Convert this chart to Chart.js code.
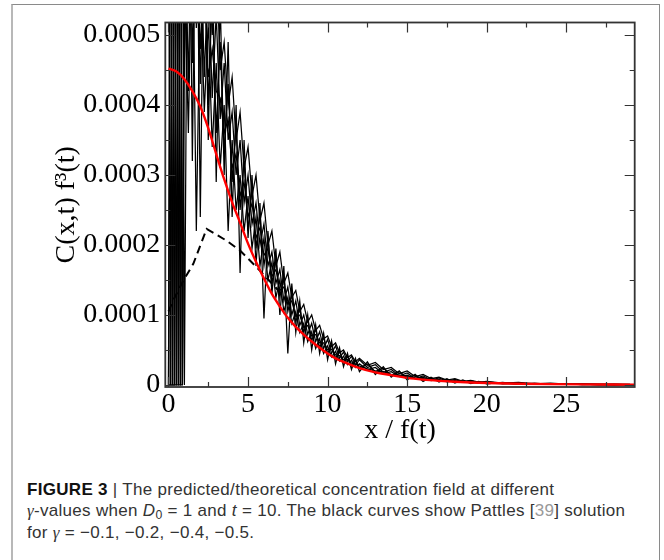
<!DOCTYPE html>
<html>
<head>
<meta charset="utf-8">
<script src="https://cdn.jsdelivr.net/npm/chart.js@4.4.1/dist/chart.umd.min.js"></script>
<style>
  html, body { margin: 0; padding: 0; background: #fff; }
  body { width: 664px; height: 560px; position: relative; overflow: hidden; }
  #frame {
    position: absolute; left: 11px; top: 4px; width: 646px; height: 600px;
    border: 1px solid #8a8a8a; border-left: 2px solid #b8b8b8;
  }
  #plot { position: absolute; left: 0; top: 0; }
  #caption {
    position: absolute; left: 27px; top: 479px; white-space: nowrap;
    font: 17px/21.3px 'Liberation Sans', Arial, sans-serif; color: #333;
    letter-spacing: 0.3px;
  }
  #caption b { color: #111; }
  #caption .g { font-family: 'Liberation Serif', serif; font-style: italic; }
  #caption sub { font-size: 0.72em; line-height: 0; vertical-align: -0.25em; }
  #caption .ref { color: #999; }
</style>
</head>
<body>
<div id="frame"></div>
<canvas id="plot" width="664" height="460"></canvas>
<div id="caption">
  <b>FIGURE 3</b> | The predicted/theoretical concentration field at different<br>
  <span class="g">γ</span>-values when <i>D</i><sub>0</sub> = 1 and <i>t</i> = 10. The black curves show Pattles [<span class="ref">39</span>] solution<br>
  for <span class="g">γ</span> = −0.1, −0.2, −0.4, −0.5.
</div>
<script>
const UNIT = 1e-4;

const xGrid = [0, 0.125, 0.25, 0.375, 0.5, 0.625, 0.75, 0.875, 1,
  1.25, 1.5, 1.75, 2, 2.25, 2.5, 2.75, 3, 3.25, 3.5, 3.75, 4, 4.25, 4.5, 4.75, 5, 5.25, 5.5, 5.75, 6,
  6.25, 6.5, 6.75, 7, 7.25, 7.5, 7.75, 8, 8.25, 8.5, 8.75, 9, 9.25, 9.5, 9.75, 10, 10.25, 10.5, 10.75,
  11, 11.25, 11.5, 11.75, 12,
  12.5, 13, 13.5, 14, 14.5, 15, 15.5, 16, 16.5, 17, 17.5, 18, 18.5, 19, 19.5, 20,
  21, 22, 23, 24, 25, 26, 27, 28, 29];

// Simulationskurven (schwarz, verrauscht)
const sim1 = [0, 9, 0, 9, 0, 8, 0, 9, 7.5,
  4.2, 8, 5.1, 6.6, 4.4, 5.9, 4.1, 5.3, 3.8, 4.6, 3.5, 3.9, 3.0, 3.5, 2.6, 3.0, 2.3, 2.6, 2.0, 2.3, 1.7, 1.9,
  1.45, 1.65, 1.2, 1.4, 1.0, 1.2, 0.85, 1.0, 0.72, 0.88, 0.62, 0.76, 0.52, 0.65, 0.45, 0.56, 0.38, 0.47,
  0.33, 0.41, 0.28, 0.36,
  0.25, 0.29, 0.18, 0.22, 0.13, 0.17, 0.09, 0.13, 0.07, 0.1, 0.05, 0.08, 0.04, 0.06, 0.03, 0.045,
  0.02, 0.03, 0.012, 0.02, 0.008, 0.012, 0.005, 0.008, 0.004];
const sim2 = [9, 0, 9, 0, 9, 0, 9, 0, 5.2,
  8.5, 4.6, 7.2, 4.3, 6.3, 4.0, 5.6, 3.6, 4.9, 3.3, 4.3, 2.9, 3.7, 2.5, 3.2, 2.2, 2.8, 1.95, 2.45, 1.7, 2.1,
  1.45, 1.8, 1.25, 1.55, 1.05, 1.3, 0.9, 1.1, 0.75, 0.95, 0.63, 0.8, 0.53, 0.68, 0.45, 0.57, 0.38, 0.48,
  0.32, 0.41, 0.27, 0.35, 0.24,
  0.3, 0.19, 0.24, 0.13, 0.19, 0.1, 0.14, 0.07, 0.1, 0.05, 0.08, 0.035, 0.06, 0.025, 0.045, 0.02,
  0.03, 0.012, 0.02, 0.008, 0.014, 0.005, 0.009, 0.003, 0.006];
const sim3 = [0, 0, 9, 9, 0, 0, 9, 9, 0,
  9, 3.2, 8, 2.4, 7, 3.5, 6.2, 2.9, 5.5, 3.0, 4.9, 2.4, 4.0, 1.6, 3.5, 2.1, 3.0, 1.7, 2.6, 0.95, 2.2,
  1.3, 1.95, 1.0, 1.7, 0.45, 1.45, 0.75, 1.2, 0.6, 1.0, 0.5, 0.86, 0.45, 0.74, 0.36, 0.63, 0.3, 0.53,
  0.26, 0.45, 0.22, 0.38, 0.19,
  0.33, 0.15, 0.26, 0.11, 0.2, 0.07, 0.15, 0.05, 0.11, 0.04, 0.09, 0.025, 0.07, 0.02, 0.05, 0.015,
  0.035, 0.01, 0.025, 0.006, 0.018, 0.004, 0.012, 0.002, 0.008];
const sim4 = [9, 9, 0, 0, 9, 9, 0, 0, 9,
  6.2, 9, 6.0, 8, 5.6, 7, 5.0, 6.2, 4.5, 4.9, 4.0, 4.4, 3.5, 3.9, 3.1, 3.4, 2.7, 3.0, 2.35, 2.6, 2.0,
  2.2, 1.7, 1.9, 1.45, 1.6, 1.25, 1.35, 1.05, 1.15, 0.9, 1.0, 0.78, 0.85, 0.66, 0.7, 0.55, 0.6, 0.46,
  0.5, 0.39, 0.43, 0.33, 0.38,
  0.28, 0.32, 0.22, 0.25, 0.16, 0.2, 0.12, 0.15, 0.09, 0.11, 0.07, 0.09, 0.05, 0.065, 0.04, 0.05,
  0.025, 0.035, 0.015, 0.025, 0.01, 0.015, 0.006, 0.01, 0.005];
const sim5 = [0, 9, 9, 0, 0, 9, 9, 0, 6,
  3.6, 6.8, 2.2, 5.8, 3.9, 5.2, 3.4, 4.6, 3.1, 4.0, 2.2, 3.5, 2.5, 3.0, 2.2, 2.7, 1.95, 2.4, 1.7, 2.1,
  1.5, 1.75, 1.25, 1.5, 1.05, 1.25, 0.88, 1.05, 0.75, 0.88, 0.62, 0.76, 0.52, 0.66, 0.45, 0.56, 0.4,
  0.48, 0.34, 0.41, 0.29, 0.35, 0.25, 0.3,
  0.22, 0.25, 0.16, 0.19, 0.12, 0.14, 0.09, 0.11, 0.06, 0.08, 0.045, 0.06, 0.035, 0.045, 0.025, 0.035,
  0.018, 0.025, 0.01, 0.016, 0.006, 0.01, 0.004, 0.007, 0.003];
const sim6 = [9, 0, 0, 9, 9, 0, 0, 9, 4.4,
  7.5, 5.3, 6.5, 4.8, 5.9, 4.4, 4.8, 4.2, 4.1, 3.6, 3.8, 3.1, 3.3, 2.7, 2.9, 2.4, 2.6, 2.1, 2.25, 1.85,
  1.95, 1.55, 1.65, 1.35, 1.4, 1.15, 1.2, 0.98, 1.0, 0.82, 0.85, 0.7, 0.72, 0.6, 0.6, 0.5, 0.51, 0.43,
  0.42, 0.36, 0.36, 0.31, 0.3, 0.27,
  0.23, 0.2, 0.19, 0.15, 0.14, 0.12, 0.1, 0.09, 0.075, 0.065, 0.055, 0.05, 0.04, 0.035, 0.03, 0.025,
  0.02, 0.015, 0.012, 0.01, 0.008, 0.006, 0.005, 0.004, 0.003];
const simSeries = [sim1, sim2, sim3, sim4, sim5, sim6];

// Theorie (rot)
const redX = [0, 0.5, 1, 1.5, 2, 2.5, 3, 3.5, 4, 4.5, 5, 5.5, 6, 6.5, 7, 7.5, 8, 8.5, 9, 9.5,
  10, 10.5, 11, 12, 13, 14, 15, 16, 17, 18, 19, 20, 22, 24, 26, 28, 29.3];
const redY = [4.52, 4.48, 4.37, 4.2, 3.98, 3.67, 3.3, 2.94, 2.61, 2.32, 2.02, 1.76, 1.52, 1.30, 1.12,
  0.96, 0.83, 0.72, 0.62, 0.53, 0.45, 0.38, 0.33, 0.24, 0.18, 0.14, 0.10, 0.075, 0.058, 0.045, 0.035,
  0.027, 0.017, 0.011, 0.007, 0.005, 0.004];

// gestrichelte Kurve
const dashX = [0, 0.3, 0.93, 1.56, 2.4, 3.0, 3.66, 4.5, 5.55, 6.5, 7.5];
const dashY = [1.05, 1.21, 1.49, 1.73, 2.23, 2.15, 2.06, 1.92, 1.68, 1.45, 1.2];

// Achsen
const xMajorTicks = [0, 5, 10, 15, 20, 25];
const xMinorTicks = [2.5, 7.5, 12.5, 17.5, 22.5, 27.5];
const yMajorTicks = [0, 0.0001, 0.0002, 0.0003, 0.0004, 0.0005];
const yTickLabels = ['0', '0.0001', '0.0002', '0.0003', '0.0004', '0.0005'];
const yMinorTicks = [0.00005, 0.00015, 0.00025, 0.00035, 0.00045];

const serif = 'Liberation Serif';

const toPoints = (xs, ys) => xs.map((x, i) => ({ x, y: ys[i] * UNIT }));

// Rahmen + nach innen zeigende Ticks auf allen vier Seiten (xmgrace-Stil)
const frameTicks = {
  id: 'frameTicks',
  afterDatasetsDraw(chart) {
    const { ctx, chartArea: a, scales: { x, y } } = chart;
    ctx.save();
    ctx.strokeStyle = '#333';
    ctx.lineWidth = 1.2;
    ctx.beginPath();
    const xt = (v, len) => {
      const px = Math.round(x.getPixelForValue(v)) + 0.5;
      ctx.moveTo(px, a.bottom); ctx.lineTo(px, a.bottom - len);
      ctx.moveTo(px, a.top); ctx.lineTo(px, a.top + len);
    };
    const yt = (v, len) => {
      const py = Math.round(y.getPixelForValue(v)) + 0.5;
      ctx.moveTo(a.left, py); ctx.lineTo(a.left + len, py);
      ctx.moveTo(a.right, py); ctx.lineTo(a.right - len, py);
    };
    xMajorTicks.forEach(v => xt(v, 10));
    xMinorTicks.forEach(v => xt(v, 5));
    yMajorTicks.forEach(v => yt(v, 10));
    yMinorTicks.forEach(v => yt(v, 5));
    ctx.stroke();
    ctx.lineWidth = 1.8;
    ctx.strokeRect(a.left, a.top, a.right - a.left, a.bottom - a.top);
    ctx.restore();
  }
};

const datasets = [
  {
    data: toPoints(redX, redY),
    borderColor: '#ff0000',
    borderWidth: 2.4,
    cubicInterpolationMode: 'monotone',
    order: 0,
  },
  ...simSeries.map(s => ({
    data: toPoints(xGrid, s),
    borderColor: '#000',
    borderWidth: 1.25,
    tension: 0,
    order: 1,
  })),
  {
    data: toPoints(dashX, dashY),
    borderColor: '#000',
    borderWidth: 2,
    borderDash: [8, 5],
    tension: 0,
    order: 2,
  },
];

new Chart(document.getElementById('plot'), {
  type: 'line',
  data: { datasets },
  plugins: [frameTicks],
  options: {
    responsive: false,
    animation: false,
    events: [],
    parsing: false,
    elements: { point: { radius: 0 } },
    layout: { padding: { left: 0, right: 29.3, top: 22.5, bottom: 0 } },
    scales: {
      x: {
        type: 'linear',
        min: -0.2,
        max: 29.3,
        grid: { display: false, drawTicks: false },
        border: { display: false },
        afterBuildTicks: s => { s.ticks = xMajorTicks.map(v => ({ value: v })); },
        afterFit: s => { s.height = 73; },
        ticks: {
          padding: 1,
          color: '#000',
          maxRotation: 0,
          font: { family: serif, size: 28 },
          callback: v => String(v),
        },
        title: {
          display: true,
          text: 'x / f(t)',
          color: '#000',
          font: { family: serif, size: 28 },
          padding: { top: 0, bottom: 13 },
        },
      },
      y: {
        type: 'linear',
        min: -0.000003,
        max: 0.000518,
        grid: { display: false, drawTicks: false },
        border: { display: false },
        afterBuildTicks: s => { s.ticks = yMajorTicks.map(v => ({ value: v })); },
        afterFit: s => { s.width = 165.3; },
        ticks: {
          padding: 5,
          color: '#000',
          font: { family: serif, size: 28 },
          callback: (v, i) => yTickLabels[i],
        },
        title: {
          display: true,
          text: 'C(x,t) f³(t)',
          color: '#000',
          font: { family: serif, size: 28 },
          padding: { top: 50, bottom: 0 },
        },
      },
    },
    plugins: { legend: { display: false }, tooltip: { enabled: false } },
  },
});
</script>
</body>
</html>
